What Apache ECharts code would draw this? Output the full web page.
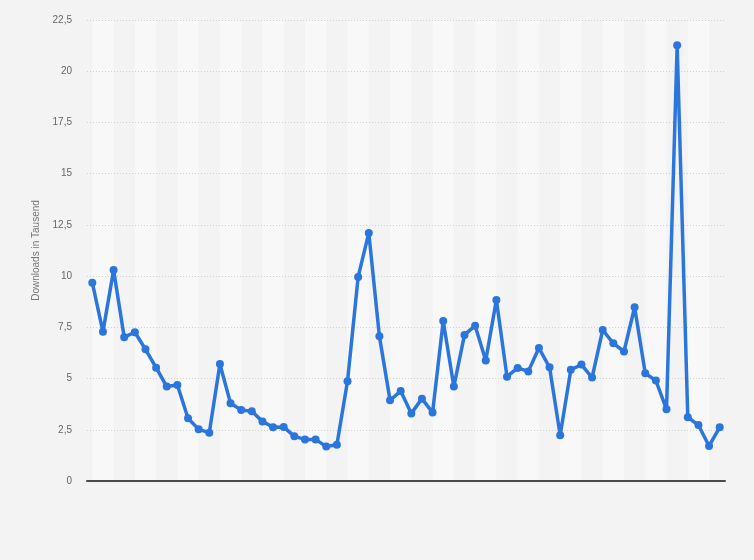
<!DOCTYPE html>
<html>
<head>
<meta charset="utf-8">
<script src="https://cdn.jsdelivr.net/npm/echarts@6/dist/echarts.min.js"></script>
<style>html,body{margin:0;padding:0;background:#f3f3f3;}#c{width:754px;height:560px;}</style>
</head>
<body>
<div id="c"></div>
<script>
// Categories (no x labels shown in the reference)
const categories = Array.from({length: 60}, (_, i) => String(i + 1));
const downloads = [
  9.68, 7.28, 10.3, 7.02, 7.26, 6.43, 5.53, 4.61, 4.69, 3.06,
  2.52, 2.36, 5.71, 3.79, 3.47, 3.4, 2.91, 2.62, 2.64, 2.18,
  2.03, 2.03, 1.68, 1.77, 4.87, 9.96, 12.11, 7.06, 3.94, 4.39,
  3.3, 4.02, 3.34, 7.81, 4.61, 7.13, 7.58, 5.88, 8.84, 5.09,
  5.52, 5.35, 6.49, 5.55, 2.23, 5.43, 5.68, 5.05, 7.37, 6.72,
  6.32, 8.48, 5.26, 4.9, 3.5, 21.27, 3.11, 2.73, 1.71, 2.62
];
const yTicks = [0, 2.5, 5, 7.5, 10, 12.5, 15, 17.5, 20, 22.5];
const yAxisName = 'Downloads in Tausend';

// stripe bands: light from category 4k to 4k+2
const stripes = [];
for (let i = 0; i + 2 < categories.length; i += 4) {
  stripes.push([{xAxis: categories[i]}, {xAxis: categories[i + 2]}]);
}

const chart = echarts.init(document.getElementById('c'), null, {renderer: 'canvas'});
chart.setOption({
  backgroundColor: '#f3f3f3',
  animation: false,
  grid: {left: 87, right: 29, top: 20, bottom: 79},
  xAxis: {
    type: 'category',
    data: categories,
    boundaryGap: true,
    z: 5,
    axisLine: {show: true, lineStyle: {color: '#4a4a4a', width: 2}},
    axisTick: {show: false},
    axisLabel: {show: false},
    splitLine: {show: false}
  },
  yAxis: {
    type: 'value',
    min: yTicks[0],
    max: yTicks[yTicks.length - 1],
    interval: 2.5,
    z: 5,
    name: yAxisName,
    nameLocation: 'middle',
    nameRotate: 90,
    nameGap: 42,
    nameTextStyle: {color: '#777', fontSize: 10, fontFamily: 'Liberation Sans, Arial, sans-serif'},
    axisLine: {show: false},
    axisTick: {show: false},
    axisLabel: {
      color: '#666', fontSize: 10, margin: 15,
      fontFamily: 'Liberation Sans, Arial, sans-serif',
      formatter: v => String(v).replace('.', ',')
    },
    splitLine: {show: true, lineStyle: {color: '#d2d2d2', type: [1, 2], width: 1}}
  },
  series: [
    {
      type: 'line',
      data: [],
      z: 1,
      silent: true,
      markArea: {
        silent: true,
        z: 1,
        itemStyle: {color: '#f8f8f8'},
        data: stripes
      }
    },
    {
      type: 'line',
      data: downloads,
      z: 10,
      symbol: 'circle',
      symbolSize: 8,
      showAllSymbol: true,
      lineStyle: {color: '#2a76dc', width: 3.5},
      itemStyle: {color: '#2a76dc'}
    }
  ]
});
</script>
</body>
</html>
